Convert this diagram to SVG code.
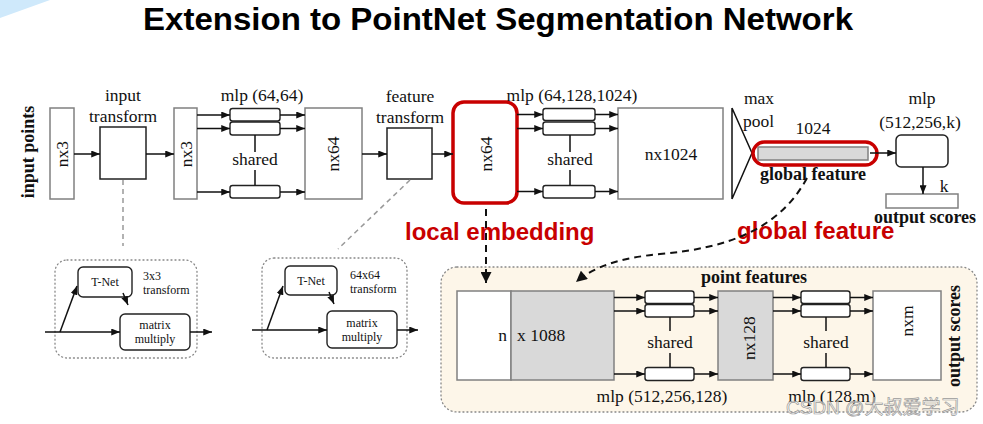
<svg xmlns="http://www.w3.org/2000/svg" width="983" height="424" viewBox="0 0 983 424">
<style>
.t{font-family:"Liberation Serif","Times New Roman",serif;font-size:17.5px;fill:#111}
.tb{font-family:"Liberation Serif","Times New Roman",serif;font-size:18px;font-weight:bold;fill:#111}
.ts{font-family:"Liberation Serif","Times New Roman",serif;font-size:12px;fill:#111}
.red{font-family:"Liberation Sans",Arial,sans-serif;font-size:24px;font-weight:bold;fill:#c80000}
.gb{fill:#fff;stroke:#808080;stroke-width:1.5}
.gg{fill:#d9d9d9;stroke:#808080;stroke-width:1.5}
.db{fill:#fff;stroke:#222;stroke-width:1.5}
.mb{fill:#fff;stroke:#222;stroke-width:1.4}
.rb{fill:none;stroke:#c80000;stroke-width:3.5}
.ln{fill:none;stroke:#111;stroke-width:1.5}
.ar{fill:none;stroke:#111;stroke-width:1.5;marker-end:url(#ah)}
.da{fill:none;stroke:#111;stroke-width:2;stroke-dasharray:7 5;marker-end:url(#ahd)}
.gd{fill:none;stroke:#999;stroke-width:1.5;stroke-dasharray:5 4}
.dot{fill:none;stroke:#888;stroke-width:1.3;stroke-dasharray:1 3;stroke-linecap:round}
</style>
<defs>
<marker id="ah" viewBox="0 0 10 8" refX="10" refY="4" markerWidth="9" markerHeight="7" markerUnits="userSpaceOnUse" orient="auto"><path d="M0,0 L10,4 L0,8 z" fill="#111"/></marker>
<marker id="ahd" viewBox="0 0 10 10" refX="10" refY="5" markerWidth="12" markerHeight="11" markerUnits="userSpaceOnUse" orient="auto"><path d="M0,0 L10,5 L0,10 z" fill="#111"/></marker>
</defs>
<rect width="983" height="424" fill="#fff"/>
<polygon points="0,0 50,0 0,18" fill="#cfe9fb"/>
<g id="title"><text x="143" y="30" font-family="'Liberation Sans',Arial,sans-serif" font-size="32" font-weight="bold" fill="#000" textLength="710" lengthAdjust="spacingAndGlyphs">Extension to PointNet Segmentation Network</text></g>

<g id="seg-panel">
<rect x="441" y="267" width="536" height="145" rx="16" fill="#fdf6e9"/>
<rect x="441" y="267" width="536" height="145" rx="16" class="dot"/>
</g>
<g id="tnet3-panel"><rect x="55" y="260" width="142" height="98" rx="12" class="dot"/></g>
<g id="tnet64-panel"><rect x="262" y="258" width="145" height="100" rx="12" class="dot"/></g>

<g id="input-points"><text class="tb" text-anchor="middle" transform="translate(34,152) rotate(-90)">input points</text></g>
<g id="nx3-a"><rect x="50" y="108" width="24" height="91" class="gb"/><text class="t" text-anchor="middle" transform="translate(68,154) rotate(-90)">nx3</text></g>
<g id="input-transform"><text class="t" x="123" y="101" text-anchor="middle">input</text><text class="t" x="123" y="122" text-anchor="middle">transform</text><rect x="100" y="127" width="46" height="52" class="db"/></g>
<g id="nx3-b"><rect x="174" y="108" width="23" height="91" class="gb"/><text class="t" text-anchor="middle" transform="translate(192,154) rotate(-90)">nx3</text></g>
<g id="mlp1"><text class="t" x="262" y="101" text-anchor="middle">mlp (64,64)</text>
<rect x="230" y="108.5" width="50" height="12.5" rx="2.5" class="mb"/><rect x="230" y="122" width="50" height="13" rx="2.5" class="mb"/><rect x="230" y="185.5" width="50" height="12.5" rx="2.5" class="mb"/>
<text class="t" x="255" y="165" text-anchor="middle">shared</text></g>
<g id="nx64-a"><rect x="305" y="108" width="57" height="91" class="gb"/><text class="t" text-anchor="middle" transform="translate(339,154) rotate(-90)">nx64</text></g>
<g id="feature-transform"><text class="t" x="410" y="102" text-anchor="middle">feature</text><text class="t" x="410" y="123" text-anchor="middle">transform</text><rect x="387" y="128" width="45" height="51" class="db"/></g>
<g id="nx64-b"><rect x="453" y="102" width="64" height="101" rx="11" class="rb" fill="#fff"/><text class="t" text-anchor="middle" transform="translate(492,154) rotate(-90)">nx64</text></g>
<g id="mlp2"><text class="t" x="572" y="101" text-anchor="middle">mlp (64,128,1024)</text>
<rect x="543" y="108.5" width="52" height="12" rx="2.5" class="mb"/><rect x="543" y="122" width="52" height="13" rx="2.5" class="mb"/><rect x="543" y="185.5" width="52" height="12.5" rx="2.5" class="mb"/>
<text class="t" x="570" y="165" text-anchor="middle">shared</text></g>
<g id="nx1024"><rect x="618" y="108" width="105" height="91" class="gb"/><text class="t" x="671" y="160" text-anchor="middle">nx1024</text></g>
<g id="maxpool"><path d="M732,108 V199 M732,108 L752,153 L732,199" class="ln" stroke-width="1.3"/><text class="t" x="759" y="104" text-anchor="middle">max</text><text class="t" x="743" y="127">pool</text></g>
<g id="global-feature"><text class="t" x="813" y="134" text-anchor="middle">1024</text>
<rect x="758" y="147" width="110" height="13" class="gg"/>
<rect x="753" y="142" width="124" height="23" rx="11.5" class="rb"/>
<text class="tb" x="813" y="180" text-anchor="middle">global feature</text></g>
<g id="mlp3"><text class="t" x="922" y="104" text-anchor="middle">mlp</text><text class="t" x="920" y="128" text-anchor="middle">(512,256,k)</text><rect x="896" y="135" width="52" height="32" rx="5" class="db"/></g>
<g id="output-k"><text class="t" x="944" y="192" text-anchor="middle">k</text><rect x="886" y="194" width="72" height="14" class="gb"/><text class="tb" x="925" y="223" text-anchor="middle">output scores</text></g>

<g id="label-local"><text class="red" x="405" y="240">local embedding</text></g>
<g id="label-global"><text class="red" x="737" y="239">global feature</text></g>

<g id="tnet3"><rect x="78" y="267" width="54" height="30" rx="5" class="mb"/><text class="ts" x="105" y="286" text-anchor="middle">T-Net</text>
<text class="ts" x="143" y="280">3x3</text><text class="ts" x="143" y="294">transform</text></g>
<g id="matmul3"><rect x="120" y="314" width="70" height="36" rx="5" class="mb"/><text class="ts" x="155" y="329" text-anchor="middle">matrix</text><text class="ts" x="155" y="343" text-anchor="middle">multiply</text></g>
<g id="tnet64"><rect x="285" y="266" width="52" height="29" rx="5" class="mb"/><text class="ts" x="311" y="285" text-anchor="middle">T-Net</text>
<text class="ts" x="350" y="279">64x64</text><text class="ts" x="350" y="293">transform</text></g>
<g id="matmul64"><rect x="327" y="311" width="70" height="37" rx="5" class="mb"/><text class="ts" x="362" y="327" text-anchor="middle">matrix</text><text class="ts" x="362" y="341" text-anchor="middle">multiply</text></g>

<g id="concat"><rect x="457" y="291" width="54" height="89" class="gb"/><rect x="511" y="291" width="103" height="89" class="gg"/>
<text class="t" x="507" y="341" text-anchor="end">n</text><text class="t" x="517" y="341">x 1088</text></g>
<g id="point-features"><text class="tb" x="754" y="283" text-anchor="middle">point features</text></g>
<g id="mlp4"><rect x="645" y="291" width="49" height="12.5" rx="2.5" class="mb"/><rect x="645" y="304.5" width="49" height="12.5" rx="2.5" class="mb"/><rect x="645" y="367.5" width="49" height="13" rx="2.5" class="mb"/>
<text class="t" x="670" y="348" text-anchor="middle">shared</text><text class="t" x="662" y="402" text-anchor="middle">mlp (512,256,128)</text></g>
<g id="nx128"><rect x="718" y="291" width="55" height="89" class="gg"/><text class="t" text-anchor="middle" transform="translate(755,338) rotate(-90)">nx128</text></g>
<g id="mlp5"><rect x="801" y="291" width="49" height="12.5" rx="2.5" class="mb"/><rect x="801" y="304.5" width="49" height="12.5" rx="2.5" class="mb"/><rect x="801" y="367.5" width="49" height="13" rx="2.5" class="mb"/>
<text class="t" x="826" y="348" text-anchor="middle">shared</text><text class="t" x="832" y="402" text-anchor="middle">mlp (128,m)</text></g>
<g id="nxm"><rect x="873" y="291" width="68" height="89" class="gb"/><text class="t" text-anchor="middle" transform="translate(913,321) rotate(-90)">nxm</text></g>
<g id="output-scores-seg"><text class="tb" text-anchor="middle" transform="translate(960,336) rotate(-90)">output scores</text></g>

<g id="connectors">
<path class="ar" d="M74,154 H100"/>
<path class="ar" d="M146,154 H174"/>
<path class="ar" d="M197,115 H230"/><path class="ar" d="M197,128.5 H230"/><path class="ar" d="M197,192 H230"/>
<path class="ar" d="M280,115 H305"/><path class="ar" d="M280,128.5 H305"/><path class="ar" d="M280,192 H305"/>
<path class="ln" d="M255,135 V152 M255,170 V185.5"/>
<path class="ar" d="M362,154 H387"/>
<path class="ar" d="M432,154 H453"/>
<path class="ar" d="M517,114.5 H543"/><path class="ar" d="M517,128.5 H543"/><path class="ar" d="M517,191.5 H543"/>
<path class="ar" d="M595,114.5 H618"/><path class="ar" d="M595,128.5 H618"/><path class="ar" d="M595,191.5 H618"/>
<path class="ln" d="M570,135 V152 M570,170 V185.5"/>
<path class="ar" d="M870,153 H896"/>
<path class="ar" d="M923,167 V194"/>
<path class="gd" d="M123,180 V246"/>
<path class="gd" d="M410,180 L338,249"/>
<path class="da" d="M486,209 V283"/>
<path class="da" d="M807,178 C780,228 730,248 660,254 C620,258 595,266 576,282"/>
<path class="ar" d="M45,332 H120"/><path class="ar" d="M60,332 L77,286"/><path class="ar" d="M123,293 L128,305"/><path class="ar" d="M190,332 H212"/>
<path class="ar" d="M252,330 H327"/><path class="ar" d="M267,330 L283,286"/><path class="ar" d="M329,292 L334,304"/><path class="ar" d="M397,330 H418"/>
<path class="ar" d="M614,297.5 H645"/><path class="ar" d="M614,311 H645"/><path class="ar" d="M614,374 H645"/>
<path class="ar" d="M694,297.5 H718"/><path class="ar" d="M694,311 H718"/><path class="ar" d="M694,374 H718"/>
<path class="ln" d="M670,317 V331 M670,353 V367.5"/>
<path class="ar" d="M773,297.5 H801"/><path class="ar" d="M773,311 H801"/><path class="ar" d="M773,374 H801"/>
<path class="ar" d="M850,297.5 H873"/><path class="ar" d="M850,311 H873"/><path class="ar" d="M850,374 H873"/>
<path class="ln" d="M826,317 V331 M826,353 V367.5"/>
</g>
<g id="watermark"><text x="786" y="414" font-family="'Liberation Sans','Noto Sans CJK SC',sans-serif" font-size="19" fill="#fff" fill-opacity="0.55" stroke="#9a9a9a" stroke-width="0.7">CSDN @大叔爱学习</text></g>
</svg>
